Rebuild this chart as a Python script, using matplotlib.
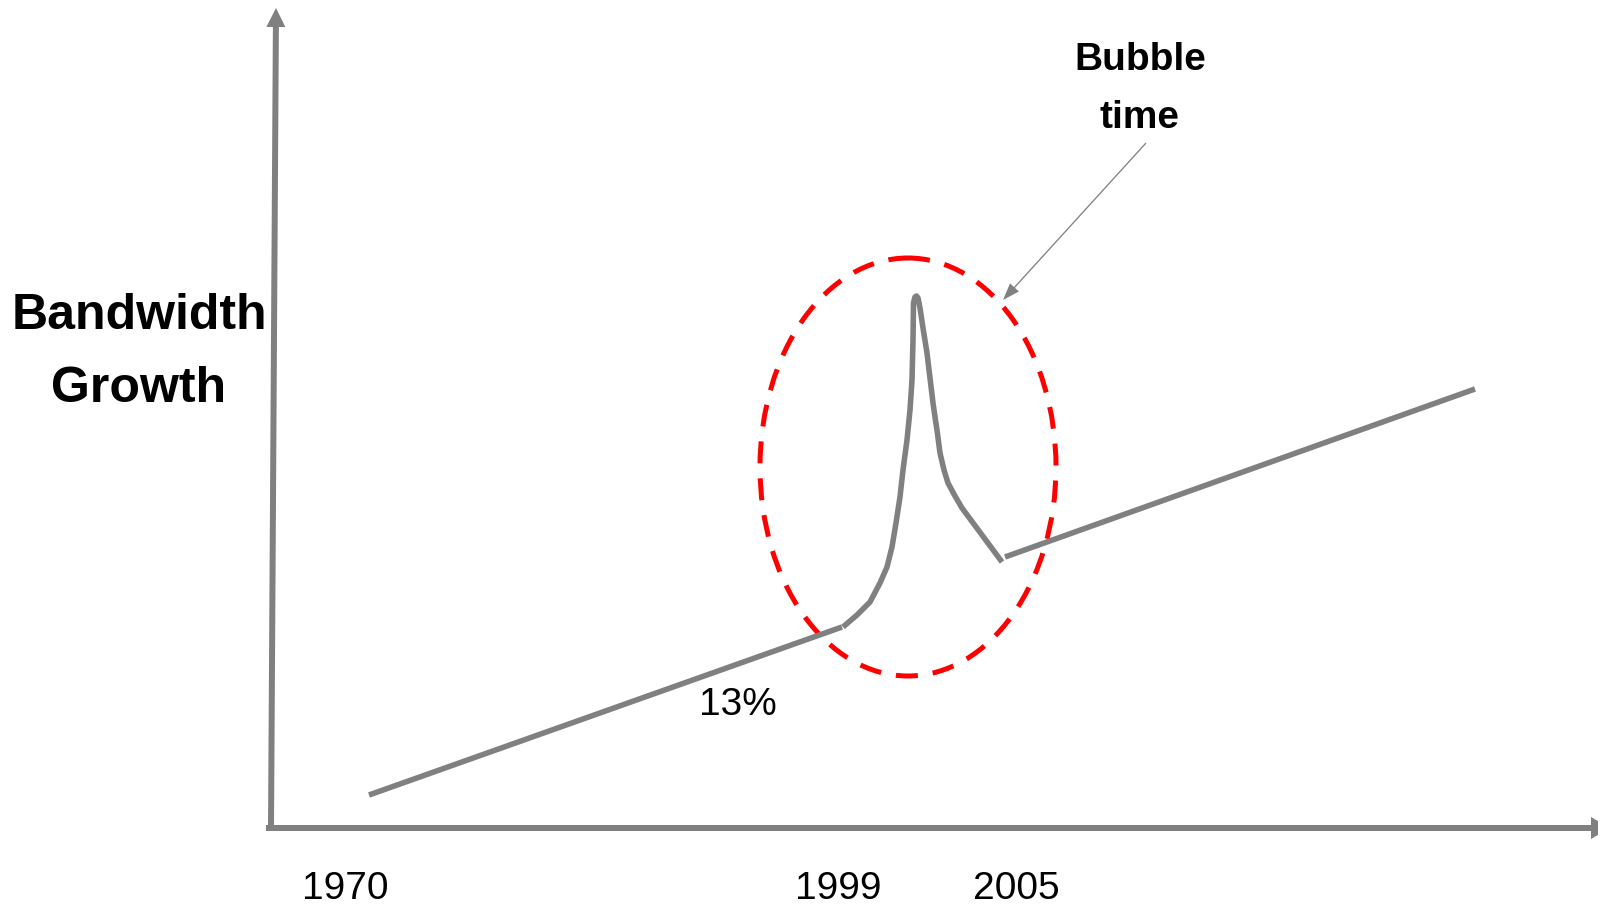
import matplotlib.pyplot as plt
from matplotlib.patches import Ellipse

W, H = 1598, 907

# schematic curve, drawn in the canvas' own units (x right, y down)
trend_before_x = [369, 842]
trend_before_y = [795, 627]

bubble_x = [843, 857, 870, 880, 887, 892, 896, 900, 903, 907, 910, 912, 913, 913.5,
            915, 916.5, 918, 920, 923, 927, 930, 933, 935, 937, 940, 944, 948, 955, 962, 1002]
bubble_y = [627, 615, 602, 583, 567, 547, 523, 497, 470, 440, 410, 380, 340, 303,
            297, 296, 298, 308, 328, 353, 378, 403, 417, 430, 453, 470, 483, 496, 508, 562]

trend_after_x = [1005, 1475]
trend_after_y = [557, 389]

tick_labels = ["1970", "1999", "2005"]
tick_x = [345, 838, 1016]

GREY = "#808080"
RED = "#ff0000"
LW = 4.0

fig = plt.figure(figsize=(W / 100, H / 100), dpi=100)
ax = fig.add_axes([0, 0, 1, 1])
ax.set_xlim(0, W)
ax.set_ylim(H, 0)
ax.axis("off")

# axes with arrow heads
ax.arrow(271, 828, 5, -820, width=6, head_width=19, head_length=19,
         length_includes_head=True, color=GREY, lw=0)
ax.arrow(266, 828, 1344, 0, width=6, head_width=22, head_length=19,
         length_includes_head=True, color=GREY, lw=0)

# growth line with the bubble
ax.plot(trend_before_x, trend_before_y, color=GREY, lw=LW, solid_capstyle="butt")
ax.plot(bubble_x, bubble_y, color=GREY, lw=LW, solid_capstyle="butt",
        solid_joinstyle="round")
ax.plot(trend_after_x, trend_after_y, color=GREY, lw=LW, solid_capstyle="butt")

# dashed ring around the bubble
ring = Ellipse((908, 467), 296, 418, fill=False, edgecolor=RED, lw=3.6,
               linestyle=(0, (4.4, 3.0)))
ax.add_patch(ring)

# callout
ax.arrow(1146, 143, -143, 157, width=1.3, head_width=12, head_length=17,
         length_includes_head=True, color=GREY, lw=0)
ax.text(1140, 60, "Bubble", fontsize=28, fontweight="bold",
        family="Liberation Sans", ha="center", va="center")
ax.text(1140, 118, "time", fontsize=28, fontweight="bold",
        family="Liberation Sans", ha="center", va="center")

ax.text(139, 316, "Bandwidth", fontsize=36, fontweight="bold",
        family="Liberation Sans", ha="center", va="center")
ax.text(139, 389, "Growth", fontsize=36, fontweight="bold",
        family="Liberation Sans", ha="center", va="center")

ax.text(738, 705, "13%", fontsize=28, family="Liberation Sans",
        ha="center", va="center")

for lbl, x in zip(tick_labels, tick_x):
    ax.text(x, 889, lbl, fontsize=28, family="Liberation Sans",
            ha="center", va="center")

fig.savefig("out.png", dpi=100)
